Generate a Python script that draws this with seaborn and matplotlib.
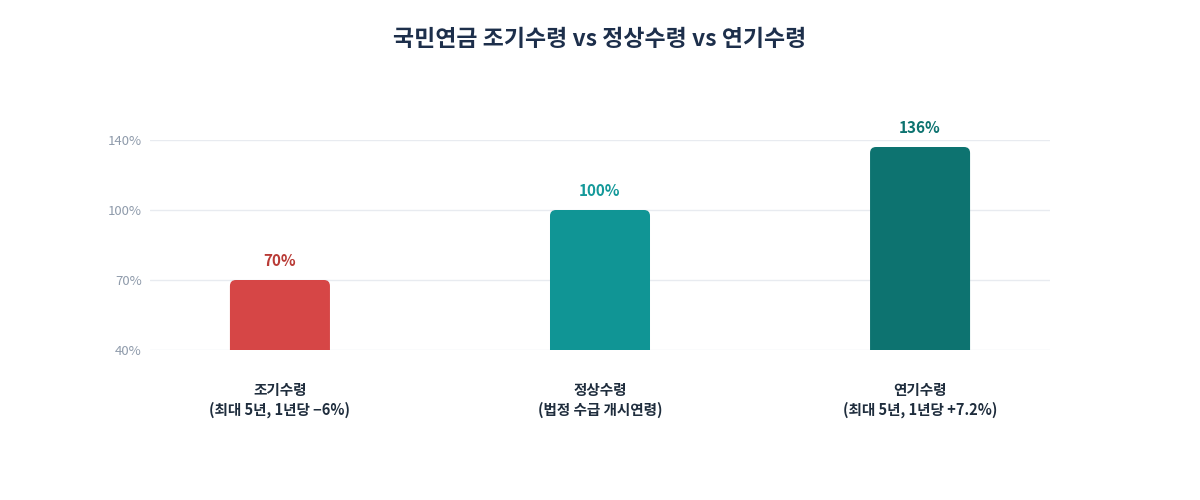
import numpy as np
import pandas as pd
import seaborn as sns
import matplotlib.pyplot as plt
from matplotlib.patches import FancyBboxPatch
from matplotlib.transforms import IdentityTransform

categories = ['조기수령', '정상수령', '연기수령']
notes = ['(최대 5년, 1년당 −6%)', '(법정 수급 개시연령)', '(최대 5년, 1년당 +7.2%)']
values = [70, 100, 136]
bar_colors = ['#d64646', '#109595', '#0d7370']
label_colors = ['#b93b36', '#14999a', '#0d7370']
y_ticks = [40, 70, 100, 140]

sns.set_theme(style='white')
plt.rcParams['font.family'] = ['Noto Sans CJK KR', 'DejaVu Sans']

df = pd.DataFrame({'cat': categories, 'value': values})

fig = plt.figure(figsize=(12, 5), dpi=100)
ax = fig.add_axes([0.125, 0.3, 0.75, 0.42])

# the reference axis spaces its ticks evenly, so map them piecewise
steps = np.arange(len(y_ticks), dtype=float)
ax.set_yscale('function', functions=(lambda v: np.interp(v, y_ticks, steps),
                                     lambda s: np.interp(s, steps, y_ticks)))

sns.barplot(data=df, x='cat', y='value', hue='cat', palette=bar_colors,
            width=0.3125, legend=False, ax=ax)

ax.set_xlim(-0.406, 2.406)
ax.set_ylim(40, 140)
ax.set_yticks(y_ticks)
ax.set_yticklabels([f'{t}%' for t in y_ticks])
ax.yaxis.grid(True, color='#e8ebf0', lw=1)
ax.set_axisbelow(True)
ax.tick_params(axis='y', length=0, pad=6, labelsize=9.5, labelcolor='#8f9bab')
ax.set_xticks(range(len(categories)))
ax.set_xticklabels([f'{c}\n{n}' for c, n in zip(categories, notes)],
                   fontsize=10.5, color='#1f2d3d', fontweight='semibold', linespacing=1.3)
ax.tick_params(axis='x', length=0, pad=23)
ax.set_xlabel('')
ax.set_ylabel('')
sns.despine(ax=ax, left=True, bottom=True)

# rounded tops on the bars
r = 6
for patch, color in zip(ax.patches, bar_colors):
    x0, y0, w, h = patch.get_x(), patch.get_y(), patch.get_width(), patch.get_height()
    px0, py0 = ax.transData.transform((x0, y0))
    px1, py1 = ax.transData.transform((x0 + w, y0 + h))
    patch.set_visible(False)
    box = FancyBboxPatch((px0 + r, py0 - 10 + r), (px1 - px0) - 2 * r, (py1 - py0 + 10) - 2 * r,
                         boxstyle=f'round,pad={r},rounding_size={r}',
                         transform=IdentityTransform(), facecolor=color, edgecolor='none')
    ax.add_artist(box)

for i, (v, c) in enumerate(zip(values, label_colors)):
    ax.annotate(f'{v}%', (i, v), xytext=(0, 8), textcoords='offset points',
                ha='center', va='bottom', fontsize=11, fontweight='bold', color=c,
                annotation_clip=False)

fig.text(0.5, 1 - 40 / 500, '국민연금 조기수령 vs 정상수령 vs 연기수령', ha='center', va='center',
         fontsize=16.5, fontweight='bold', color='#1d2f4b')

fig.savefig('out.png', dpi=100)
